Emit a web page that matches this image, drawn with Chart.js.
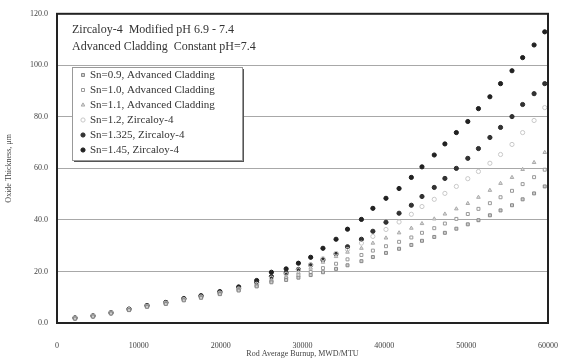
<!DOCTYPE html>
<html>
<head>
<meta charset="utf-8">
<script src="https://cdn.jsdelivr.net/npm/chart.js@4.4.0/dist/chart.umd.min.js"></script>
<style>
  html, body { margin: 0; padding: 0; background: #fff; }
  #wrap { width: 568px; height: 359px; }
</style>
</head>
<body>
<div id="wrap"><canvas id="chart" width="568" height="359"></canvas></div>
<script>
// burnup steps (MWD/MTU) shared by all series
const burnup = [2200, 4400, 6600, 8800, 11000, 13300, 15500, 17600, 19900, 22200, 24400,
  26200, 28000, 29500, 31000, 32500, 34100, 35500, 37200, 38600, 40200, 41800, 43300,
  44600, 46100, 47400, 48800, 50200, 51500, 52900, 54200, 55600, 56900, 58300, 59600];

// oxide thickness (um)
const sn090 = [1.7, 2.5, 3.7, 5.0, 6.3, 7.4, 8.8, 9.8, 11.2, 12.6, 14.2,
  15.8, 16.7, 17.6, 18.6, 19.7, 21.0, 22.4, 24.0, 25.6, 27.2, 28.8, 30.3,
  31.9, 33.4, 35.0, 36.6, 38.3, 39.9, 41.8, 43.7, 45.7, 48.0, 50.3, 53.0];
const sn100 = [1.8, 2.6, 3.8, 5.1, 6.4, 7.5, 8.9, 9.9, 11.3, 12.8, 14.4,
  16.2, 17.3, 18.5, 19.8, 21.3, 23.0, 24.7, 26.4, 28.1, 29.8, 31.5, 33.2,
  35.0, 36.8, 38.6, 40.4, 42.3, 44.3, 46.5, 48.8, 51.3, 53.9, 56.6, 59.5];
const sn110 = [1.8, 2.6, 3.8, 5.2, 6.4, 7.6, 9.0, 10.0, 11.5, 13.0, 14.6,
  16.6, 18.0, 19.6, 21.3, 23.6, 25.8, 27.5, 29.0, 31.0, 33.0, 35.0, 36.8,
  38.6, 40.4, 42.3, 44.3, 46.4, 48.8, 51.5, 54.2, 56.5, 59.6, 62.3, 66.2];
const sn120 = [1.9, 2.7, 3.9, 5.2, 6.5, 7.7, 9.1, 10.1, 11.6, 13.2, 15.0,
  17.4, 18.9, 20.6, 22.6, 25.0, 27.0, 28.5, 31.0, 33.6, 36.3, 39.2, 42.2,
  45.2, 48.0, 50.3, 53.0, 56.0, 58.8, 62.0, 65.4, 69.3, 73.9, 78.6, 83.6];
const sn1325 = [1.9, 2.7, 3.9, 5.3, 6.6, 7.8, 9.3, 10.3, 11.8, 13.5, 15.6,
  18.0, 19.4, 20.8, 22.5, 24.5, 26.8, 29.6, 32.5, 35.6, 39.1, 42.6, 45.7,
  49.1, 52.6, 56.1, 60.0, 63.9, 67.7, 72.0, 75.9, 80.1, 84.8, 89.0, 92.9];
const sn145 = [2.0, 2.8, 4.0, 5.4, 6.8, 8.0, 9.5, 10.6, 12.2, 14.0, 16.5,
  19.7, 21.0, 23.2, 25.5, 29.0, 32.5, 36.4, 40.2, 44.5, 48.4, 52.2, 56.5,
  60.6, 65.2, 69.5, 73.9, 78.2, 83.2, 87.8, 92.9, 97.9, 103.0, 107.9, 113.0];

const seriesLabels = ["Sn=0.9, Advanced Cladding", "Sn=1.0, Advanced Cladding",
  "Sn=1.1, Advanced Cladding", "Sn=1.2, Zircaloy-4", "Sn=1.325, Zircaloy-4", "Sn=1.45, Zircaloy-4"];
const xTicks = [0, 10000, 20000, 30000, 40000, 50000, 60000];
const yTicks = [0, 20, 40, 60, 80, 100, 120];
const headerLines = ["Zircaloy-4  Modified pH 6.9 - 7.4", "Advanced Cladding  Constant pH=7.4"];

const FONT = "'Liberation Serif', 'DejaVu Serif', serif";

const styles = [
  { pointStyle: "rect", backgroundColor: "#cfcfcf", borderColor: "#888" },
  { pointStyle: "rect", backgroundColor: "#ffffff", borderColor: "#999" },
  { pointStyle: "triangle", backgroundColor: "#dddddd", borderColor: "#aaa" },
  { pointStyle: "circle", backgroundColor: "rgba(0,0,0,0)", borderColor: "#c8c8c8" },
  { pointStyle: "circle", backgroundColor: "#333", borderColor: "#2a2a2a" },
  { pointStyle: "circle", backgroundColor: "#222", borderColor: "#1a1a1a" }
];

const allSeries = [sn090, sn100, sn110, sn120, sn1325, sn145];

const datasets = allSeries.map((vals, i) => ({
  label: seriesLabels[i],
  data: burnup.map((b, k) => ({ x: b, y: vals[k] })),
  pointStyle: styles[i].pointStyle,
  backgroundColor: styles[i].backgroundColor,
  borderColor: styles[i].borderColor,
  borderWidth: 1,
  pointRadius: 2.1,
  showLine: false
}));

// frame, header text and the legend box inside the plot area
const decor = {
  id: "decor",
  afterDraw(chart) {
    const ctx = chart.ctx;
    const a = chart.chartArea;
    ctx.save();

    // plot frame
    ctx.strokeStyle = "#222";
    ctx.lineWidth = 2;
    ctx.strokeRect(a.left, a.top, a.right - a.left, a.bottom - a.top);

    // header
    ctx.fillStyle = "#333";
    ctx.font = "12px " + FONT;
    ctx.textBaseline = "middle";
    ctx.fillText(headerLines[0], a.left + 15, 30);
    ctx.fillText(headerLines[1], a.left + 15, 47);

    // legend
    const bx = 72, by = 67, bw = 170, bh = 93;
    ctx.fillStyle = "#555";
    ctx.fillRect(bx + 2, by + 2, bw, bh);
    ctx.fillStyle = "#fff";
    ctx.fillRect(bx, by, bw, bh);
    ctx.strokeStyle = "#999";
    ctx.lineWidth = 1;
    ctx.strokeRect(bx + 0.5, by + 0.5, bw, bh);

    ctx.font = "11px " + FONT;
    chart.data.datasets.forEach((ds, i) => {
      const y = by + 8 + i * 15;
      ctx.fillStyle = ds.backgroundColor;
      ctx.strokeStyle = ds.borderColor;
      ctx.lineWidth = 1;
      Chart.helpers.drawPoint(ctx, { pointStyle: ds.pointStyle, radius: 2.1, rotation: 0, borderWidth: 1 }, bx + 11, y);
      ctx.fillStyle = "#333";
      ctx.fillText(ds.label, bx + 18, y);
    });
    ctx.restore();
  }
};

new Chart(document.getElementById("chart"), {
  type: "scatter",
  data: { datasets: datasets },
  plugins: [decor],
  options: {
    responsive: false,
    animation: false,
    layout: { padding: { left: 0, right: 11, top: 13, bottom: 0 } },
    plugins: { legend: { display: false }, tooltip: { enabled: false } },
    scales: {
      x: {
        type: "linear",
        min: 0,
        max: 60000,
        afterBuildTicks: s => { s.ticks = xTicks.map(v => ({ value: v })); },
        afterFit: s => { s.height = 36; },
        grid: { display: false },
        border: { display: false },
        ticks: {
          color: "#444",
          font: { family: FONT, size: 8 },
          padding: 10,
          maxRotation: 0,
          callback: v => String(v)
        },
        title: {
          display: true,
          text: "Rod Average Burnup, MWD/MTU",
          color: "#444",
          font: { family: FONT, size: 8 },
          padding: { top: 0, bottom: 0 }
        }
      },
      y: {
        min: 0,
        max: 120,
        afterBuildTicks: s => { s.ticks = yTicks.map(v => ({ value: v })); },
        afterFit: s => { s.width = 57; },
        grid: { color: "#a8a8a8", lineWidth: 1, drawTicks: false },
        border: { display: false },
        ticks: {
          color: "#444",
          font: { family: FONT, size: 8 },
          padding: 9,
          callback: v => v.toFixed(1)
        },
        title: {
          display: true,
          text: "Oxide Thickness, \u03bcm",
          color: "#444",
          font: { family: FONT, size: 8 },
          padding: { top: 4, bottom: 0 }
        }
      }
    }
  }
});
</script>
</body>
</html>
